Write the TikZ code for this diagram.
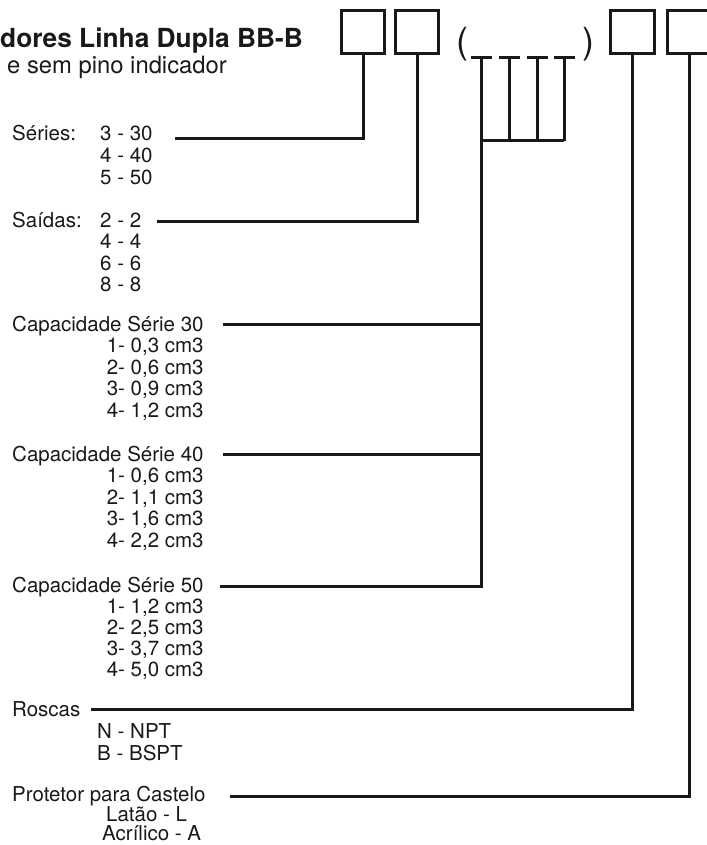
\documentclass[tikz,border=0pt]{standalone}
\usepackage{fontspec}
\setmainfont{TeX Gyre Heros}
\begin{document}
\begin{tikzpicture}[x=1pt,y=-1pt,
  line/.style={line width=3pt, line cap=butt, line join=miter, draw=black!90},
  codebox/.style={draw=black!90, line width=2.8pt, minimum width=43.5pt, minimum height=43.5pt, inner sep=0pt, outer sep=0pt},
  txt/.style={font=\fontsize{20.5}{24}\selectfont, inner sep=0pt, anchor=base west, text=black!90},
  rtxt/.style={font=\fontsize{20.5}{24}\selectfont, inner sep=0pt, anchor=base east, text=black!90},
  paren/.style={font=\fontsize{36}{40}\selectfont, inner sep=0pt, anchor=base, text=black!90},
  ]
\useasboundingbox (0,0) rectangle (706,845);

% title
\node[font=\bfseries\fontsize{26.3}{31}\selectfont, inner sep=0pt, anchor=base east, text=black!90] (title) at (303,48) {dores Linha Dupla BB-B};
\node[font=\fontsize{23.8}{28}\selectfont, inner sep=0pt, anchor=base east, text=black!90] (subtitle) at (227,74) {e sem pino indicador};

% code boxes
\node[codebox] (b1) at (363,32) {};
\node[codebox] (b2) at (417,32) {};
\node[codebox] (b3) at (632.5,32) {};
\node[codebox] (b4) at (689,32) {};
\node[paren] (pl) at (462,54) {(};
\node[paren] (pr) at (588,54) {)};

% capacity digit placeholders
\coordinate (t1) at (481,58);
\coordinate (t2) at (509,58);
\coordinate (t3) at (537,58);
\coordinate (t4) at (564,58);
\coordinate (j1) at (481,141);
\coordinate (j2) at (509,141);
\coordinate (j3) at (537,141);
\coordinate (j4) at (564,141);
\foreach \t in {t1,t2,t3,t4}{\draw[line] ([xshift=-10pt]\t) -- ([xshift=10.5pt]\t);}
\draw[line] (t1) -- (j1);
\draw[line] (t2) -- (j2);
\draw[line] (t3) -- (j3);
\draw[line] (t4) -- (j4);
\draw[line] (j1) -- (j4);

% Series
\node[txt] (ser) at (12,141) {Séries:};
\node[txt] (ser1) at (100,141) {3 - 30};
\node[txt] (ser2) at (100,162.5) {4 - 40};
\node[txt] (ser3) at (100,184) {5 - 50};
\coordinate (serL) at (175,138.5);
\draw[line] (b1.south) |- (serL);

% Saidas
\node[txt] (sai) at (12,227) {Saídas:};
\node[txt] (sai1) at (100,227) {2 - 2};
\node[txt] (sai2) at (100,248.5) {4 - 4};
\node[txt] (sai3) at (100,270) {6 - 6};
\node[txt] (sai4) at (100,291.5) {8 - 8};
\coordinate (saiL) at (157,221.5);
\draw[line] (b2.south) |- (saiL);

% Capacidade 30
\node[txt] (c30) at (12,331) {Capacidade Série 30};
\node[rtxt] at (c30.base east |- 0,352.5) {1- 0,3 cm3};
\node[rtxt] at (c30.base east |- 0,374) {2- 0,6 cm3};
\node[rtxt] at (c30.base east |- 0,395.5) {3- 0,9 cm3};
\node[rtxt] at (c30.base east |- 0,417) {4- 1,2 cm3};
\coordinate (c30L) at (223,324);
\coordinate (c30R) at (481,324);
\draw[line] (c30L) -- (c30R);

% Capacidade 40
\node[txt] (c40) at (12,461) {Capacidade Série 40};
\node[rtxt] at (c40.base east |- 0,482.5) {1- 0,6 cm3};
\node[rtxt] at (c40.base east |- 0,504) {2- 1,1 cm3};
\node[rtxt] at (c40.base east |- 0,525.5) {3- 1,6 cm3};
\node[rtxt] at (c40.base east |- 0,547) {4- 2,2 cm3};
\coordinate (c40L) at (223,454);
\coordinate (c40R) at (481,454);
\draw[line] (c40L) -- (c40R);

% Capacidade 50
\node[txt] (c50) at (12,592) {Capacidade Série 50};
\node[rtxt] at (c50.base east |- 0,613) {1- 1,2 cm3};
\node[rtxt] at (c50.base east |- 0,634) {2- 2,5 cm3};
\node[rtxt] at (c50.base east |- 0,655) {3- 3,7 cm3};
\node[rtxt] at (c50.base east |- 0,676) {4- 5,0 cm3};
\coordinate (c50L) at (220,586);
\coordinate (c50R) at (481,586);
\draw[line] (c50L) -- (c50R) -- (j1);

% Roscas
\node[txt] (ros) at (12,716) {Roscas};
\node[txt] (ros1) at (97,738) {N - NPT};
\node[txt] (ros2) at (97,760) {B - BSPT};
\coordinate (rosL) at (91,709);
\draw[line] (b3.south) |- (rosL);

% Protetor
\node[txt] (pro) at (12,801) {Protetor para Castelo};
\node[txt] (pro1) at (106,821) {Latão - L};
\node[txt] (pro2) at (102,840) {Acrílico - A};
\coordinate (proL) at (230,796.5);
\draw[line] (b4.south) |- (proL);
\end{tikzpicture}
\end{document}
